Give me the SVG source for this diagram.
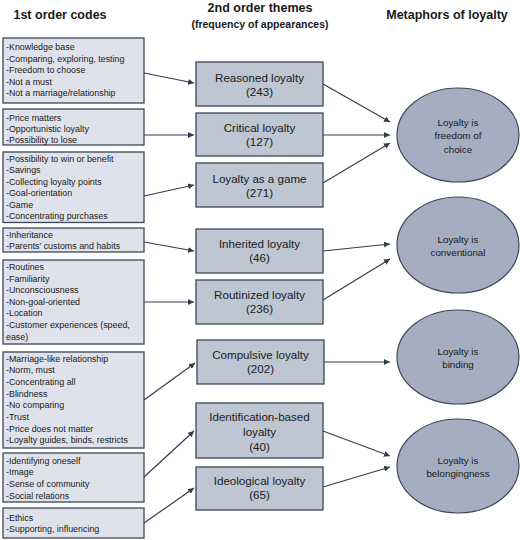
<svg xmlns="http://www.w3.org/2000/svg" width="520" height="540" viewBox="0 0 520 540">
<style>
text{font-family:"Liberation Sans",Arial,sans-serif;fill:#1a1a1a}
.hdr{font-weight:bold;font-size:12.5px;text-anchor:middle}
.sub{font-weight:bold;font-size:10.5px;text-anchor:middle}
.code rect{fill:#dfe2ea;stroke:#3d4657;stroke-width:1.3}
.code text{font-size:8.9px}
.theme rect{fill:#bec5d3;stroke:#3d4657;stroke-width:1.3}
.theme text{font-size:11.6px;text-anchor:middle}
.meta ellipse{fill:#a5adc1;stroke:#3d4657;stroke-width:1.2}
.meta text{font-size:9.8px;text-anchor:middle}
#connectors line{stroke:#343d4f;stroke-width:1.2;marker-end:url(#ah)}
</style>
<defs>
<marker id="ah" markerUnits="userSpaceOnUse" markerWidth="7" markerHeight="6" refX="6" refY="3" orient="auto">
<path d="M0,0 L6,3 L0,6 Z" fill="#343d4f"/>
</marker>
</defs>
<rect width="520" height="540" fill="#ffffff"/>
<g id="headers">
<text class="hdr" x="60" y="19">1st order codes</text>
<text class="hdr" x="260" y="12">2nd order themes</text>
<text class="sub" x="260" y="28">(frequency of appearances)</text>
<text class="hdr" x="447" y="19">Metaphors of loyalty</text>
</g>
<g id="connectors">
<line x1="144" y1="73" x2="194" y2="83"/>
<line x1="144" y1="135" x2="194" y2="135"/>
<line x1="144" y1="196" x2="194" y2="185"/>
<line x1="144" y1="242" x2="194" y2="251"/>
<line x1="144" y1="302" x2="194" y2="302"/>
<line x1="144" y1="400" x2="195" y2="363"/>
<line x1="144" y1="477" x2="194" y2="431"/>
<line x1="144" y1="523" x2="194" y2="488"/>
<line x1="323" y1="84" x2="390" y2="122"/>
<line x1="323" y1="135" x2="390" y2="135"/>
<line x1="323" y1="183" x2="390" y2="143"/>
<line x1="323" y1="251" x2="390" y2="244"/>
<line x1="323" y1="300" x2="390" y2="259"/>
<line x1="324" y1="362" x2="390" y2="362"/>
<line x1="323" y1="431" x2="390" y2="456"/>
<line x1="323" y1="487" x2="390" y2="467"/>
</g>
<g id="code1" class="code">
<rect x="3" y="38" width="141" height="65"/>
<text x="6" y="50">-Knowledge base</text>
<text x="6" y="61.5">-Comparing, exploring, testing</text>
<text x="6" y="73">-Freedom to choose</text>
<text x="6" y="84.5">-Not a must</text>
<text x="6" y="96">-Not a marriage/relationship</text>
</g>
<g id="code2" class="code">
<rect x="3" y="109" width="141" height="36"/>
<text x="6" y="120.5">-Price matters</text>
<text x="6" y="131.8">-Opportunistic loyalty</text>
<text x="6" y="142.5">-Possibility to lose</text>
</g>
<g id="code3" class="code">
<rect x="3" y="152" width="141" height="70.5"/>
<text x="6" y="161.5">-Possibility to win or benefit</text>
<text x="6" y="173">-Savings</text>
<text x="6" y="184.5">-Collecting loyalty points</text>
<text x="6" y="196">-Goal-orientation</text>
<text x="6" y="207.5">-Game</text>
<text x="6" y="219">-Concentrating purchases</text>
</g>
<g id="code4" class="code">
<rect x="3" y="228" width="141" height="24"/>
<text x="6" y="238">-Inheritance</text>
<text x="6" y="249.3">-Parents’ customs and habits</text>
</g>
<g id="code5" class="code">
<rect x="3" y="260" width="141" height="84"/>
<text x="6" y="270">-Routines</text>
<text x="6" y="281.6">-Familiarity</text>
<text x="6" y="293.2">-Unconsciousness</text>
<text x="6" y="304.8">-Non-goal-oriented</text>
<text x="6" y="316.4">-Location</text>
<text x="6" y="328">-Customer experiences (speed,</text>
<text x="6" y="339.6">ease)</text>
</g>
<g id="code6" class="code">
<rect x="3" y="352" width="141" height="96"/>
<text x="6" y="361.5">-Marriage-like relationship</text>
<text x="6" y="373.2">-Norm, must</text>
<text x="6" y="384.9">-Concentrating all</text>
<text x="6" y="396.6">-Blindness</text>
<text x="6" y="408.3">-No comparing</text>
<text x="6" y="420">-Trust</text>
<text x="6" y="431.7">-Price does not matter</text>
<text x="6" y="443.4">-Loyalty guides, binds, restricts</text>
</g>
<g id="code7" class="code">
<rect x="3" y="453" width="141" height="49"/>
<text x="6" y="463.5">-Identifying oneself</text>
<text x="6" y="475.2">-Image</text>
<text x="6" y="486.9">-Sense of community</text>
<text x="6" y="498.6">-Social relations</text>
</g>
<g id="code8" class="code">
<rect x="3" y="508" width="141" height="30"/>
<text x="6" y="520.5">-Ethics</text>
<text x="6" y="532.2">-Supporting, influencing</text>
</g>
<g id="theme1" class="theme">
<rect x="196" y="62" width="127" height="44"/>
<text x="259.5" y="82">Reasoned loyalty</text>
<text x="259.5" y="96">(243)</text>
</g>
<g id="theme2" class="theme">
<rect x="196" y="113" width="127" height="43"/>
<text x="259.5" y="132">Critical loyalty</text>
<text x="259.5" y="146">(127)</text>
</g>
<g id="theme3" class="theme">
<rect x="196" y="163" width="127" height="44"/>
<text x="259.5" y="183">Loyalty as a game</text>
<text x="259.5" y="197">(271)</text>
</g>
<g id="theme4" class="theme">
<rect x="196" y="229" width="127" height="44"/>
<text x="259.5" y="248">Inherited loyalty</text>
<text x="259.5" y="262">(46)</text>
</g>
<g id="theme5" class="theme">
<rect x="196" y="280" width="127" height="44"/>
<text x="259.5" y="299">Routinized loyalty</text>
<text x="259.5" y="313">(236)</text>
</g>
<g id="theme6" class="theme">
<rect x="197" y="340" width="127" height="44"/>
<text x="260.5" y="359">Compulsive loyalty</text>
<text x="260.5" y="373">(202)</text>
</g>
<g id="theme7" class="theme">
<rect x="196" y="403" width="127" height="55"/>
<text x="259.5" y="421">Identification-based</text>
<text x="259.5" y="436">loyalty</text>
<text x="259.5" y="451">(40)</text>
</g>
<g id="theme8" class="theme">
<rect x="196" y="467" width="127" height="43"/>
<text x="259.5" y="485">Ideological loyalty</text>
<text x="259.5" y="499">(65)</text>
</g>
<g id="meta1" class="meta">
<ellipse cx="458" cy="135" rx="61" ry="47"/>
<text x="458" y="125.5">Loyalty is</text>
<text x="458" y="139">freedom of</text>
<text x="458" y="152.5">choice</text>
</g>
<g id="meta2" class="meta">
<ellipse cx="458" cy="245" rx="61" ry="48"/>
<text x="458" y="242.5">Loyalty is</text>
<text x="458" y="255.5">conventional</text>
</g>
<g id="meta3" class="meta">
<ellipse cx="458" cy="357" rx="61" ry="47"/>
<text x="458" y="354.5">Loyalty is</text>
<text x="458" y="367.5">binding</text>
</g>
<g id="meta4" class="meta">
<ellipse cx="458" cy="466" rx="61" ry="47"/>
<text x="458" y="464">Loyalty is</text>
<text x="458" y="477">belongingness</text>
</g>
</svg>
